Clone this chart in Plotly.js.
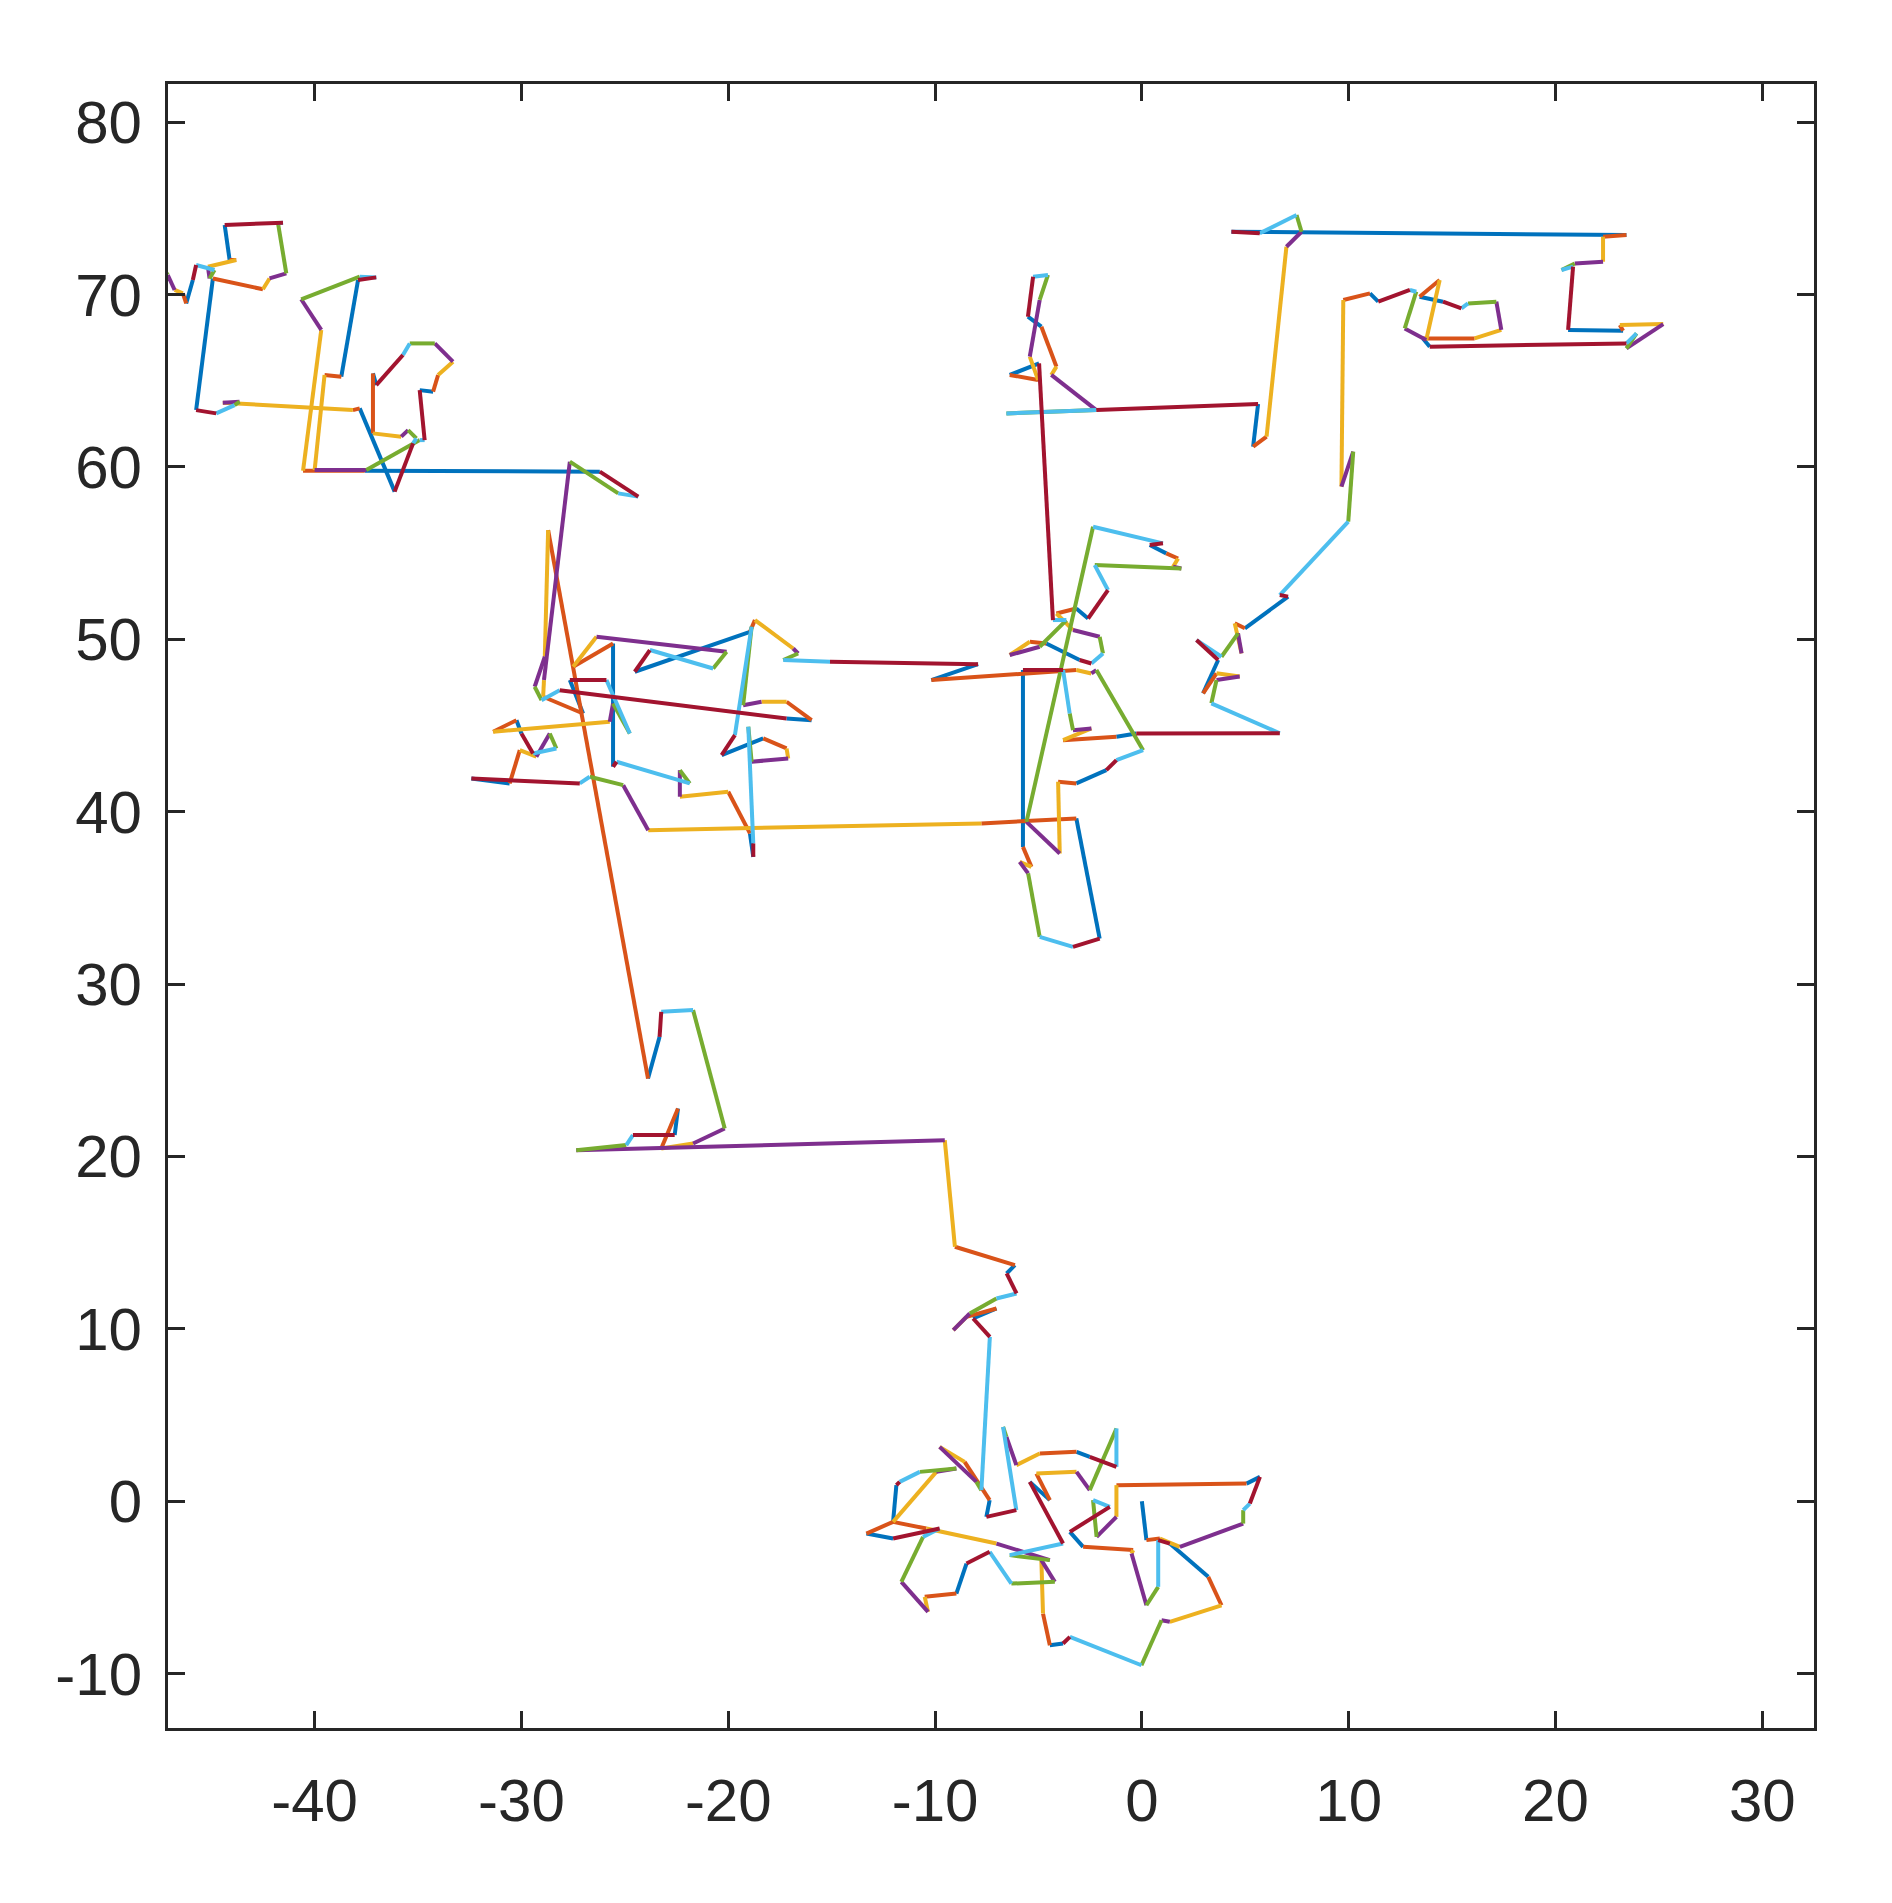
<!DOCTYPE html>
<html><head><meta charset="utf-8">
<script src="https://cdn.plot.ly/plotly-3.0.1.min.js"></script>
<style>html,body{margin:0;padding:0;background:#fff;}#chart{width:1892px;height:1903px;}</style>
</head><body><div id="chart"></div>
<script>
// Random-walk legs (data units)
const originClusterX = [0.00,0.22,0.87,1.84,4.90,4.90,5.22,5.71,5.06,-1.23,-1.23,-2.19,-2.36,-1.55,-3.48,-2.84,-0.42,-0.50,0.22,0.79,0.79,1.35,3.21,3.85,1.35,0.95,-0.02,-3.48,-3.81,-4.45,-4.78,-4.86,-4.21,-6.31,-7.36,-8.48,-8.97,-10.50,-10.34,-11.63,-10.58,-9.78,-12.03,-13.32,-12.03,-9.94,-8.97,-10.74,-11.71,-11.87,-12.03,-10.42,-7.03,-4.45,-6.39,-3.81,-5.42,-4.45,-5.10,-3.16,-2.52,-1.23,-1.23,-2.52,-3.16,-4.94,-6.07,-6.55,-6.71,-6.07,-7.52,-7.36,-8.57,-9.78,-8.00,-7.76];
const originClusterY = [0.00,-2.26,-2.17,-2.65,-1.30,-0.52,-0.14,1.41,1.02,0.93,-0.91,-2.07,0.06,-0.33,-1.78,-2.65,-2.84,-3.04,-6.04,-4.97,-2.26,-2.46,-4.39,-6.04,-7.00,-6.91,-9.52,-7.87,-8.26,-8.36,-6.52,-3.42,-4.68,-4.78,-2.94,-3.62,-5.36,-5.55,-6.42,-4.68,-2.07,-1.59,-2.17,-1.88,-1.20,1.70,1.89,1.70,1.12,0.93,-1.20,-1.59,-2.46,-3.42,-3.13,-2.46,1.12,0.06,1.60,1.70,0.64,4.22,1.99,2.57,2.86,2.77,2.09,3.73,4.31,-0.52,-0.91,0.06,2.28,3.15,1.12,0.64];

const climbX = [-7.35,-8.16,-7.03,-8.48,-9.12,-8.32,-7.03,-6.06,-6.54,-6.14,-9.04,-9.53,-27.35,-24.93,-24.61,-22.59,-22.43,-23.24,-21.70,-20.17,-21.70,-23.24,-23.32,-23.88];
const climbY = [9.53,10.60,11.18,10.69,9.92,10.89,11.76,12.05,13.21,13.69,14.76,20.94,20.36,20.66,21.24,21.24,22.78,20.46,20.75,21.62,28.49,28.39,26.94,24.52];

const midLeftAX = [-28.71,-28.87,-29.36,-29.03,-28.15,-17.18,-15.97,-17.18,-18.39,-19.28,-18.87,-19.68,-20.32,-18.31,-17.18,-17.10,-18.87,-19.03,-18.79,-18.79,-18.95,-20.00,-22.34,-22.34,-21.86,-25.40,-25.57,-25.57,-27.50,-26.37,-20.08,-20.73,-23.79,-24.52,-18.95,-18.71,-16.86,-16.62,-17.34,-15.08];
const midLeftAY = [56.34,48.99,47.25,46.47,47.05,45.41,45.31,46.38,46.38,46.18,50.73,44.44,43.28,44.25,43.67,43.09,42.90,44.93,38.16,37.38,38.74,41.16,40.87,42.41,41.64,42.90,42.61,49.76,48.41,50.15,49.28,48.31,49.38,48.12,50.44,51.12,49.47,49.18,48.80,48.70];

const centerAX = [-7.92,-10.18,-3.17,-2.44,-2.20,0.06,-1.23,-1.72,-3.17,-4.05,-3.97,-5.58,-2.36,1.02,0.38,1.18,1.75,1.51,1.91,-2.28,-1.64,-2.60,-3.17,-4.13,-3.33,-2.04,-1.88,-2.44,-3.01,-4.62,-5.42,-6.39,-4.94,-3.65,-4.30];
const centerAY = [48.56,47.64,48.22,48.02,48.22,43.57,42.99,42.41,41.64,41.74,37.58,39.41,56.53,55.57,55.47,54.99,54.69,54.21,54.11,54.31,52.86,51.21,51.79,51.50,50.54,50.15,49.18,48.60,48.80,49.76,49.86,49.09,49.57,51.12,51.12];

const topCenterX = [-4.97,-6.39,-5.02,-5.42,-4.94,-4.54,-5.26,-5.51,-4.86,-4.13,-4.38,-2.20,-6.55,-2.20,5.62,5.38,6.03,6.99,7.72,7.48,5.70,4.33];
const topCenterY = [66.01,65.34,65.05,66.40,69.69,71.14,71.04,68.72,68.14,65.82,65.34,63.30,63.11,63.30,63.65,61.18,61.76,72.78,73.65,74.62,73.56,73.65];

const topRightX = [23.43,22.30,22.30,20.93,20.29,20.85,20.61,23.27,23.11,25.21,23.43,23.92,23.43,13.92,13.59,16.09,17.38,17.14,15.77,15.45,14.56,13.43,14.40,13.75,12.71,13.27,12.96,11.43,11.03,9.74];
const topRightY = [73.46,73.36,71.91,71.81,71.43,71.62,67.95,67.91,68.24,68.29,66.88,67.75,67.17,66.98,67.46,67.46,67.95,69.59,69.49,69.20,69.59,69.88,70.85,67.37,68.04,70.17,70.27,69.59,70.07,69.69];

const centerRightX = [9.65,10.22,9.98,6.67,7.07,4.98,4.49,4.82,4.65,3.85,2.64,3.69,2.96,3.61,4.73,3.61,3.36,6.67];
const centerRightY = [58.86,60.89,56.83,52.57,52.48,50.64,50.93,49.19,50.35,48.99,49.96,48.80,46.87,48.03,47.84,47.64,46.29,44.55];

const centerBX = [-0.27,-1.23,-3.81,-2.44,-3.33,-3.49,-3.81,-5.75,-5.75,-5.34,-5.91,-5.50,-4.94,-3.33,-2.04,-3.17,-7.76];
const centerBY = [44.54,44.35,44.15,44.83,44.73,45.70,48.22,48.22,37.96,36.80,37.09,36.42,32.74,32.16,32.64,39.61,39.32];

const midLeftBX = [-23.87,-25.08,-26.70,-27.18,-32.42,-30.57,-30.08,-29.28,-28.63,-28.31,-29.44,-30.00,-30.24,-31.37,-25.73,-25.57,-24.76,-25.89,-27.66,-27.02,-28.95,-28.91];
const midLeftBY = [38.93,41.54,42.03,41.64,41.93,41.64,43.57,43.19,44.54,43.67,43.38,44.54,45.31,44.64,45.22,46.28,44.54,47.64,47.64,45.70,46.67,47.64];

const topLeftX = [-27.66,-25.32,-24.35,-26.21,-37.58,-40.56,-39.68,-40.65,-37.82,-37.02,-37.90,-38.71,-39.52,-40.00,-37.50,-34.92,-34.68,-34.92,-34.27,-34.03,-33.31,-34.19,-35.40,-35.73,-37.02,-37.18,-37.18,-35.81,-35.48,-35.08,-35.24,-36.13,-37.82,-38.15,-44.44,-43.63,-43.87,-44.76,-45.73,-44.92,-42.50,-42.18,-41.37,-41.77,-41.53,-44.35,-44.11,-43.79,-45.16,-45.08,-44.84,-45.73,-45.89,-46.21,-46.37,-46.77,-47.10,-47.50];
const topLeftY = [60.31,58.47,58.28,59.73,59.78,59.78,67.95,69.73,71.04,71.00,70.85,65.24,65.34,59.82,59.82,61.56,61.56,64.46,64.37,65.34,66.11,67.17,67.17,66.50,64.75,65.43,61.95,61.76,62.14,61.66,61.37,58.57,63.40,63.30,63.73,63.79,63.59,63.11,63.30,70.94,70.31,70.94,71.23,74.14,74.17,74.04,72.01,72.01,71.62,70.94,71.43,71.72,70.85,69.49,70.07,70.27,71.14,71.81];

const colorOrder = ["#0072BD","#D95319","#EDB120","#7E2F8E","#77AC30","#4DBEEE","#A2142F"];
const xTickVals = [-40,-30,-20,-10,0,10,20,30];
const xTickText = ["-40","-30","-20","-10","0","10","20","30"];
const yTickVals = [-10,0,10,20,30,40,50,60,70,80];
const yTickText = ["-10","0","10","20","30","40","50","60","70","80"];

const walkX = [].concat(originClusterX, climbX, midLeftAX, centerAX, topCenterX, topRightX, centerRightX, centerBX, midLeftBX, topLeftX);
const walkY = [].concat(originClusterY, climbY, midLeftAY, centerAY, topCenterY, topRightY, centerRightY, centerBY, midLeftBY, topLeftY);

// one trace per colour; each step of the walk takes the next colour in the order
const traces = colorOrder.map(function(c){ return {x:[], y:[], type:'scatter', mode:'lines', line:{color:c, width:4}, hoverinfo:'skip', showlegend:false}; });
for (let i = 0; i < walkX.length - 1; i++) {
  const t = traces[i % colorOrder.length];
  t.x.push(walkX[i], walkX[i+1], null);
  t.y.push(walkY[i], walkY[i+1], null);
}

const axisCommon = {
  showgrid:false, zeroline:false, showline:true, linecolor:'#262626', linewidth:3,
  mirror:'ticks', ticks:'inside', ticklen:17, tickwidth:3, tickcolor:'#262626',
  tickfont:{family:'"Liberation Sans", Arial, sans-serif', size:60, color:'#262626'}
};
const layout = {
  width:1892, height:1903,
  margin:{l:168, r:78, t:84, b:175},
  paper_bgcolor:'#ffffff', plot_bgcolor:'#ffffff',
  xaxis: Object.assign({}, axisCommon, {range:[-47.09, 32.5], tickmode:'array', tickvals:xTickVals, ticktext:xTickText, ticklabelstandoff:18}),
  yaxis: Object.assign({}, axisCommon, {range:[-13.16, 82.22], tickmode:'array', tickvals:yTickVals, ticktext:yTickText, ticklabelstandoff:11})
};
Plotly.newPlot('chart', traces, layout, {displayModeBar:false, staticPlot:true});
</script>
</body></html>
